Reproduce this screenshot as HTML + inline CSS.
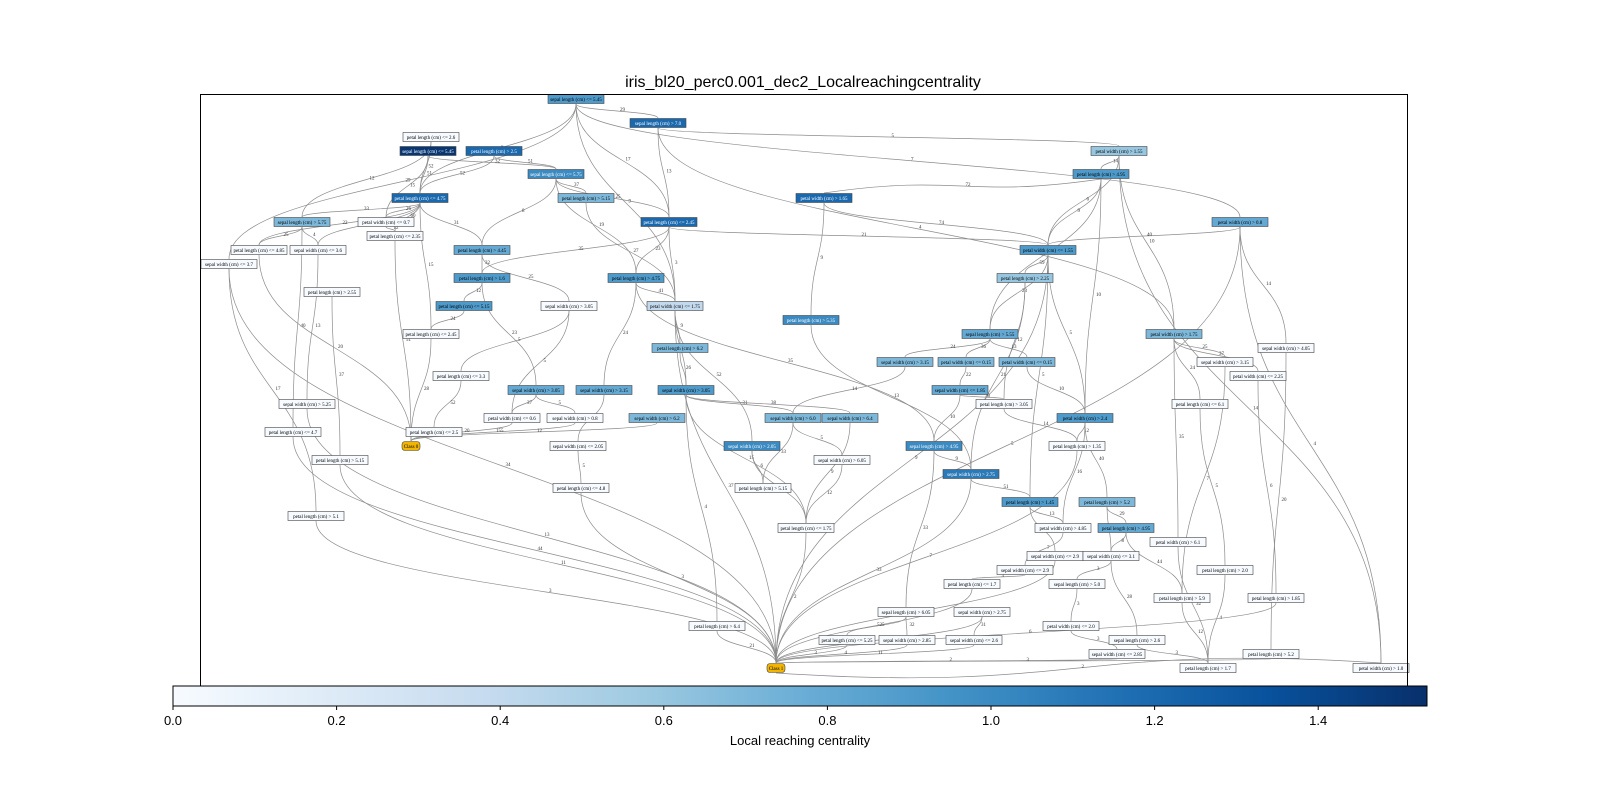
<!DOCTYPE html>
<html><head><meta charset="utf-8">
<style>
html,body{margin:0;padding:0;background:#fff;}
svg{display:block;}
</style></head>
<body>
<svg id="chart" width="1600" height="800" viewBox="0 0 1600 800" xmlns="http://www.w3.org/2000/svg">
<rect width="1600" height="800" fill="#fff"/>
<text x="803" y="87" font-family="Liberation Sans, sans-serif" font-size="16" text-anchor="middle" fill="#000">iris_bl20_perc0.001_dec2_Localreachingcentrality</text>
<g id="edges"></g>
<g id="nodes"></g>
<rect x="200.5" y="94.5" width="1207" height="592" fill="none" stroke="#000" stroke-width="1"/>
<defs>
<linearGradient id="blues" x1="0" x2="1" y1="0" y2="0">
<stop offset="0" stop-color="#f7fbff"/><stop offset="0.125" stop-color="#deebf7"/><stop offset="0.25" stop-color="#c6dbef"/><stop offset="0.375" stop-color="#9ecae1"/><stop offset="0.5" stop-color="#6baed6"/><stop offset="0.625" stop-color="#4292c6"/><stop offset="0.75" stop-color="#2171b5"/><stop offset="0.875" stop-color="#08519c"/><stop offset="1" stop-color="#08306b"/>
</linearGradient>
</defs>
<g id="colorbar">
<rect x="173" y="686" width="1254" height="20" fill="url(#blues)" stroke="#000" stroke-width="1"/>
</g>
<text x="800" y="745" font-family="Liberation Sans, sans-serif" font-size="13" text-anchor="middle">Local reaching centrality</text>
</svg>
<script>
const nodeLabels=["sepal length (cm) <= 5.45","sepal length (cm) > 7.0","petal length (cm) <= 2.6","sepal length (cm) <= 5.45","petal length (cm) > 2.5","sepal length (cm) <= 5.75","petal width (cm) > 1.55","petal length (cm) > 4.95","petal length (cm) <= 4.75","petal length (cm) > 5.15","petal width (cm) > 1.65","sepal length (cm) > 5.75","petal width (cm) <= 0.7","petal length (cm) <= 2.45","petal width (cm) > 0.8","petal length (cm) <= 4.85","sepal width (cm) <= 3.6","petal length (cm) <= 2.35","petal length (cm) > 4.45","petal width (cm) <= 1.55","sepal width (cm) <= 3.7","petal length (cm) > 1.6","petal length (cm) > 4.75","petal length (cm) > 2.25","petal length (cm) > 2.55","petal length (cm) <= 5.15","sepal width (cm) > 3.05","petal width (cm) <= 1.75","petal length (cm) > 5.35","petal length (cm) <= 2.45","sepal length (cm) > 5.55","petal width (cm) > 1.75","petal length (cm) > 6.2","sepal width (cm) > 4.05","sepal width (cm) > 3.15","petal width (cm) <= 0.15","petal width (cm) <= 0.15","sepal width (cm) > 3.15","petal length (cm) <= 3.3","petal width (cm) <= 2.25","sepal width (cm) > 3.05","sepal width (cm) > 3.15","sepal width (cm) > 3.05","sepal width (cm) <= 1.85","sepal width (cm) > 5.25","petal length (cm) > 3.05","petal length (cm) <= 6.1","petal width (cm) <= 0.6","sepal width (cm) > 0.8","sepal width (cm) > 6.2","sepal width (cm) > 6.0","sepal width (cm) > 6.4","petal width (cm) > 2.4","petal length (cm) <= 2.5","petal length (cm) <= 4.7","Class 0","sepal width (cm) <= 2.05","sepal width (cm) > 2.05","sepal length (cm) > 4.95","petal length (cm) > 1.35","petal length (cm) > 5.15","sepal width (cm) > 6.05","sepal width (cm) > 2.75","petal length (cm) <= 4.8","petal length (cm) > 5.15","petal length (cm) > 1.45","petal length (cm) > 5.2","petal length (cm) > 5.1","petal length (cm) <= 1.75","petal width (cm) > 4.85","petal length (cm) > 4.95","petal width (cm) > 6.1","sepal width (cm) <= 2.9","sepal width (cm) <= 3.1","sepal width (cm) <= 2.9","petal length (cm) > 2.0","petal length (cm) <= 1.7","sepal length (cm) > 5.0","petal length (cm) > 5.9","petal length (cm) > 1.85","sepal length (cm) > 6.05","sepal width (cm) > 2.75","petal length (cm) > 6.4","petal width (cm) <= 2.0","petal length (cm) <= 5.25","sepal width (cm) > 2.85","sepal width (cm) <= 2.6","sepal length (cm) > 2.6","sepal width (cm) <= 2.85","petal length (cm) > 5.2","Class 1","petal length (cm) > 1.7","petal width (cm) > 1.0"];
const nodeValues=[0.9,1.2,0,1.5,1.2,1.0,0.6,0.9,1.2,0.7,1.2,0.7,0,1.2,0.8,0,0,0,0.8,0.9,0,0.9,0.9,0.6,0,0.9,0,0.4,1.0,0,0.8,0.7,0.7,0,0.7,0.7,0.7,0,0,0,0.8,0.8,0.9,0.8,0,0,0,0,0,0.7,0.7,0.7,0.9,0,0,-1,0,1.0,1.0,0,0,0,1.1,0,0,0.9,0.7,0,0,0,0.8,0,0,0,0,0,0,0,0,0,0,0,0,0,0,0,0,0,0,0,-1,0,0];
const nodeX=[576,658,431,428,494,556,1119,1101,420,586,824,302,386,669,1240,259,318,395,482,1048,229,482,636,1025,332,464,569,675,811,431,990,1174,680,1286,905,966,1027,1225,461,1258,536,604,686,960,307,1004,1200,512,575,657,793,850,1085,434,293,411,578,752,934,1077,340,842,971,581,763,1030,1107,316,806,1063,1126,1178,1055,1111,1025,1225,972,1077,1182,1276,906,982,717,1071,847,907,974,1137,1117,1271,776,1208,1381];
const nodeY=[99,123,137,151,151,174,151,174,198,198,198,222,222,222,222,250,250,236,250,250,264,278,278,278,292,306,306,306,320,334,334,334,348,348,362,362,362,362,376,376,390,390,390,390,404,404,404,418,418,418,418,418,418,432,432,446,446,446,446,446,460,460,474,488,488,502,502,516,528,528,528,542,556,556,570,570,584,584,598,598,612,612,626,626,640,640,640,640,654,654,668,668,668];
const edgeFrom=[1,1,1,1,1,1,2,2,2,3,3,4,4,4,5,5,6,6,6,6,7,7,7,8,8,8,9,9,9,9,9,9,9,10,11,11,11,12,12,12,13,14,14,14,14,15,15,15,16,17,18,19,19,20,20,20,20,21,21,22,22,23,23,23,24,24,25,26,27,27,28,28,28,28,29,30,31,31,31,32,32,32,32,33,35,36,37,38,39,41,41,42,43,43,43,43,44,44,45,46,47,48,49,50,51,51,52,53,53,53,55,57,58,58,59,59,61,62,63,63,64,66,66,67,67,68,69,70,71,71,72,73,74,74,75,76,77,78,79,80,81,81,82,82,83,84,85,86,87,88,89,90,93,34,40,15,7,20,60];
const edgeTo=[2,9,14,28,21,15,7,14,32,12,9,9,6,13,9,6,14,10,19,23,8,20,32,20,31,53,12,13,16,17,18,19,30,28,20,29,8,16,17,55,18,20,22,23,28,34,20,91,56,45,56,22,27,24,31,53,66,68,91,26,41,28,42,59,46,63,61,30,39,48,43,33,58,91,63,56,35,36,37,38,40,47,72,43,51,44,53,79,54,48,49,57,51,52,69,83,59,46,91,60,76,56,56,56,62,65,69,60,67,70,91,64,69,65,63,81,91,69,66,91,91,70,73,71,74,91,91,75,79,74,92,91,78,88,77,92,91,84,92,91,85,86,87,91,91,89,91,91,91,92,91,91,91,90,80,93,93,91,91];
const edgeLabels=[29,6,17,9,29,7,5,13,4,12,52,51,32,15,52,51,25,37,8,19,14,6,10,9,35,10,33,26,22,12,60,31,15,27,74,9,72,25,4,40,12,21,35,23,3,14,40,5,20,13,51,32,25,59,23,5,5,17,34,12,23,41,24,35,12,21,37,24,5,5,3,9,52,37,13,28,24,36,13,25,37,24,35,26,14,22,10,7,52,37,5,6,31,38,15,4,10,30,13,14,5,20,155,12,5,33,9,12,40,16,44,5,23,6,9,33,11,12,51,33,3,13,4,29,5,3,2,7,44,8,32,47,3,28,3,4,5,3,12,6,25,32,31,15,21,3,3,4,11,3,2,3,2,20,6,4,14,9,7,17];
const tickValues=[0.0,0.2,0.4,0.6,0.8,1.0,1.2,1.4];
const vmax=1.533;
const NS="http://www.w3.org/2000/svg";
const stops=[[247,251,255],[222,235,247],[198,219,239],[158,202,225],[107,174,214],[66,146,198],[33,113,181],[8,81,156],[8,48,107]];
function cmap(v){let t=Math.max(0,Math.min(1,v/vmax))*(stops.length-1);let i=Math.min(Math.floor(t),stops.length-2),f=t-i;const c=stops[i].map((a,k)=>Math.round(a+(stops[i+1][k]-a)*f));return 'rgb('+c.join(',')+')';}
function xScale(v){return 173+v/vmax*1254;}
function nodeW(i){return nodeValues[i]<0?18:56;}
const eg=document.getElementById('edges');
for(let k=0;k<edgeFrom.length;k++){
 const a=edgeFrom[k]-1,b=edgeTo[k]-1;
 const x1=nodeX[a],y1=nodeY[a]+5,x2=nodeX[b],y2=nodeY[b]-5;
 let d;
 if(y2>y1){const dy=(y2-y1)*0.5;d=`M${x1},${y1} C${x1},${y1+dy} ${x2},${y2-dy} ${x2},${y2}`;}
 else{const y1b=nodeY[a]-5,y2b=nodeY[b]+5;const mx=(x1+x2)/2;d=`M${x1},${y1b} C${mx},${y1b-20} ${mx},${y2b+20} ${x2},${y2b}`;}
 const p=document.createElementNS(NS,'path');
 p.setAttribute('d',d);p.setAttribute('fill','none');p.setAttribute('stroke','#8c8c8c');p.setAttribute('stroke-width','0.7');
 
 
 eg.appendChild(p);
 const t=document.createElementNS(NS,'text');
 t.setAttribute('x',(x1+x2)/2+3);t.setAttribute('y',(y1+y2)/2);t.setAttribute('font-size','5');t.setAttribute('font-family','Liberation Serif, serif');t.setAttribute('fill','#333');
 t.textContent=edgeLabels[k];
 
 
 eg.appendChild(t);
}
const ng=document.getElementById('nodes');
for(let i=0;i<nodeLabels.length;i++){
 const w=nodeW(i),h=9,v=nodeValues[i];
 const g=document.createElementNS(NS,'g');
 
 
 const r=document.createElementNS(NS,'rect');
 r.setAttribute('x',nodeX[i]-w/2);r.setAttribute('y',nodeY[i]-h/2);r.setAttribute('width',w);r.setAttribute('height',h);
 r.setAttribute('fill',v<0?'#f2b600':cmap(v));r.setAttribute('stroke','#444');r.setAttribute('stroke-width','0.6');
 if(v<0){r.setAttribute('rx','3');}
 g.appendChild(r);
 const t=document.createElementNS(NS,'text');
 t.setAttribute('x',nodeX[i]);t.setAttribute('y',nodeY[i]+2);t.setAttribute('font-size','5');t.setAttribute('text-anchor','middle');t.setAttribute('font-family','Liberation Serif, serif');
 t.setAttribute('fill',v>0.95?'#fff':'#000');
 t.textContent=nodeLabels[i];
 g.appendChild(t);
 ng.appendChild(g);
}
const cb=document.getElementById('colorbar');
for(const tv of tickValues){
 const x=xScale(tv);
 const l=document.createElementNS(NS,'line');
 l.setAttribute('x1',x);l.setAttribute('x2',x);l.setAttribute('y1',706);l.setAttribute('y2',710);l.setAttribute('stroke','#000');
 
 
 cb.appendChild(l);
 const t=document.createElementNS(NS,'text');
 t.setAttribute('x',x);t.setAttribute('y',725);t.setAttribute('font-size','13');t.setAttribute('text-anchor','middle');t.setAttribute('font-family','Liberation Sans, sans-serif');
 t.textContent=tv.toFixed(1);
 
 
 cb.appendChild(t);
}
</script>
</body></html>
